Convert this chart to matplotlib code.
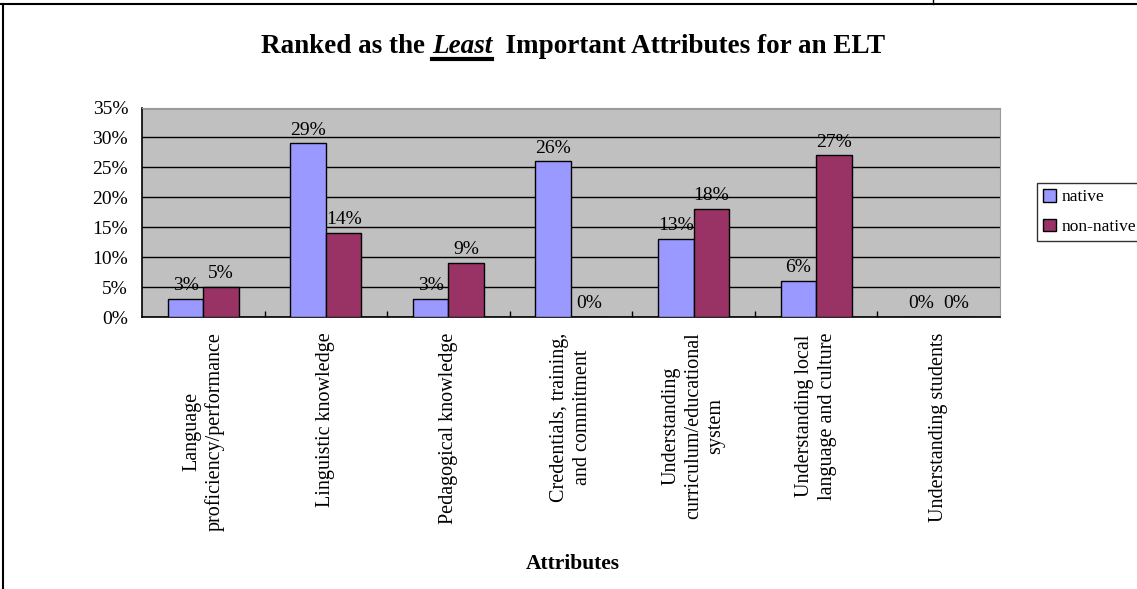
import numpy as np
import matplotlib
matplotlib.use("Agg")
import matplotlib.pyplot as plt
from matplotlib.lines import Line2D
from matplotlib.ticker import FixedLocator

# survey results: share ranking each attribute as least important
categories = [
    "Language\nproficiency/performance",
    "Linguistic knowledge",
    "Pedagogical knowledge",
    "Credentials, training,\nand commitment",
    "Understanding\ncurriculum/educational\nsystem",
    "Understanding local\nlanguage and culture",
    "Understanding students",
]
native = [3, 29, 3, 26, 13, 6, 0]
non_native = [5, 14, 9, 0, 18, 27, 0]
series_names = ["native", "non-native"]
y_ticks = [0, 5, 10, 15, 20, 25, 30, 35]

plt.rcParams["font.family"] = ["Liberation Serif", "DejaVu Serif"]

W, H = 1137, 589
fig = plt.figure(figsize=(W / 100, H / 100), dpi=100)
ax = fig.add_axes([142 / W, 1 - 317 / H, 858 / W, 209.5 / H])

x = np.arange(len(categories))
bw = 0.29
b1 = ax.bar(x - bw / 2, native, bw, color="#9999FF", edgecolor="black",
            linewidth=1.0, label=series_names[0], zorder=3)
b2 = ax.bar(x + bw / 2, non_native, bw, color="#993366", edgecolor="black",
            linewidth=1.0, label=series_names[1], zorder=3)
for bars in (b1, b2):
    ax.bar_label(bars, fmt="%d%%", padding=3.5, fontsize=14, zorder=4)

ax.set_facecolor("#C0C0C0")
ax.set_xlim(-0.5, len(categories) - 0.5)
ax.set_ylim(0, 35)
ax.set_yticks(y_ticks)
ax.set_yticklabels([f"{v}%" for v in y_ticks], fontsize=14)
ax.yaxis.grid(True, color="black", linewidth=1.0, zorder=1)
ax.set_axisbelow(True)
ax.tick_params(axis="y", length=0, pad=10)

ax.set_xticks(x)
ax.set_xticklabels(categories, rotation=90, fontsize=14.5, va="top",
                   ha="center", multialignment="center",
                   linespacing=1.25)
ax.tick_params(axis="x", which="major", length=0, pad=11)
ax.xaxis.set_minor_locator(FixedLocator(np.arange(0.5, len(categories) - 1, 1)))
ax.tick_params(axis="x", which="minor", direction="in", length=4,
               width=1, color="black")

for side in ("top", "right"):
    ax.spines[side].set_color("#9a9a9a")
for side in ("left", "bottom"):
    ax.spines[side].set_color("black")
    ax.spines[side].set_linewidth(1.2)

ax.set_xlabel("Attributes", fontsize=15.5, fontweight="bold")
ax.xaxis.set_label_coords(0.5, 0, transform=fig.transFigure)
ax.xaxis.label.set_position((573 / W, 1 - 564 / H))
ax.xaxis.label.set_verticalalignment("center")

leg = ax.legend(loc="upper left", bbox_to_anchor=(1037 / W, 1 - 183 / H),
                bbox_transform=fig.transFigure, borderaxespad=0,
                fontsize=12.5, frameon=True, fancybox=False,
                handlelength=0.75, handleheight=0.75, handletextpad=0.3,
                labelspacing=0.75, borderpad=0.35)
leg.get_frame().set_edgecolor("black")
leg.get_frame().set_linewidth(1.0)

# title built from pieces so "Least" can be italic and underlined
pieces = [("Ranked as the ", "normal"), ("Least", "italic"),
          ("  Important Attributes for an ELT", "normal")]
fig.canvas.draw()
renderer = fig.canvas.get_renderer()
tsize = 19.5
texts = []
for s, style in pieces:
    t = fig.text(0, 1 - 53 / H, s, fontsize=tsize, fontweight="bold",
                 fontstyle=style, va="baseline", ha="left")
    texts.append(t)
widths = [t.get_window_extent(renderer).width for t in texts]
x0 = (573.5 - sum(widths) / 2)
for t, w in zip(texts, widths):
    t.set_x(x0 / W)
    if t.get_text() == "Least":
        fig.add_artist(Line2D([x0 / W, (x0 + w) / W],
                              [1 - 59 / H, 1 - 59 / H],
                              color="black", linewidth=3))
    x0 += w

# outer chart frame
fig.add_artist(Line2D([0, 1], [1 - 3.5 / H, 1 - 3.5 / H], color="black",
                      linewidth=1.5))
fig.add_artist(Line2D([2.5 / W, 2.5 / W], [0, 1 - 3.5 / H], color="black",
                      linewidth=1.5))
fig.add_artist(Line2D([933 / W, 933 / W], [1 - 3.5 / H, 1], color="black",
                      linewidth=1.0))

fig.savefig("out.png", dpi=100)
